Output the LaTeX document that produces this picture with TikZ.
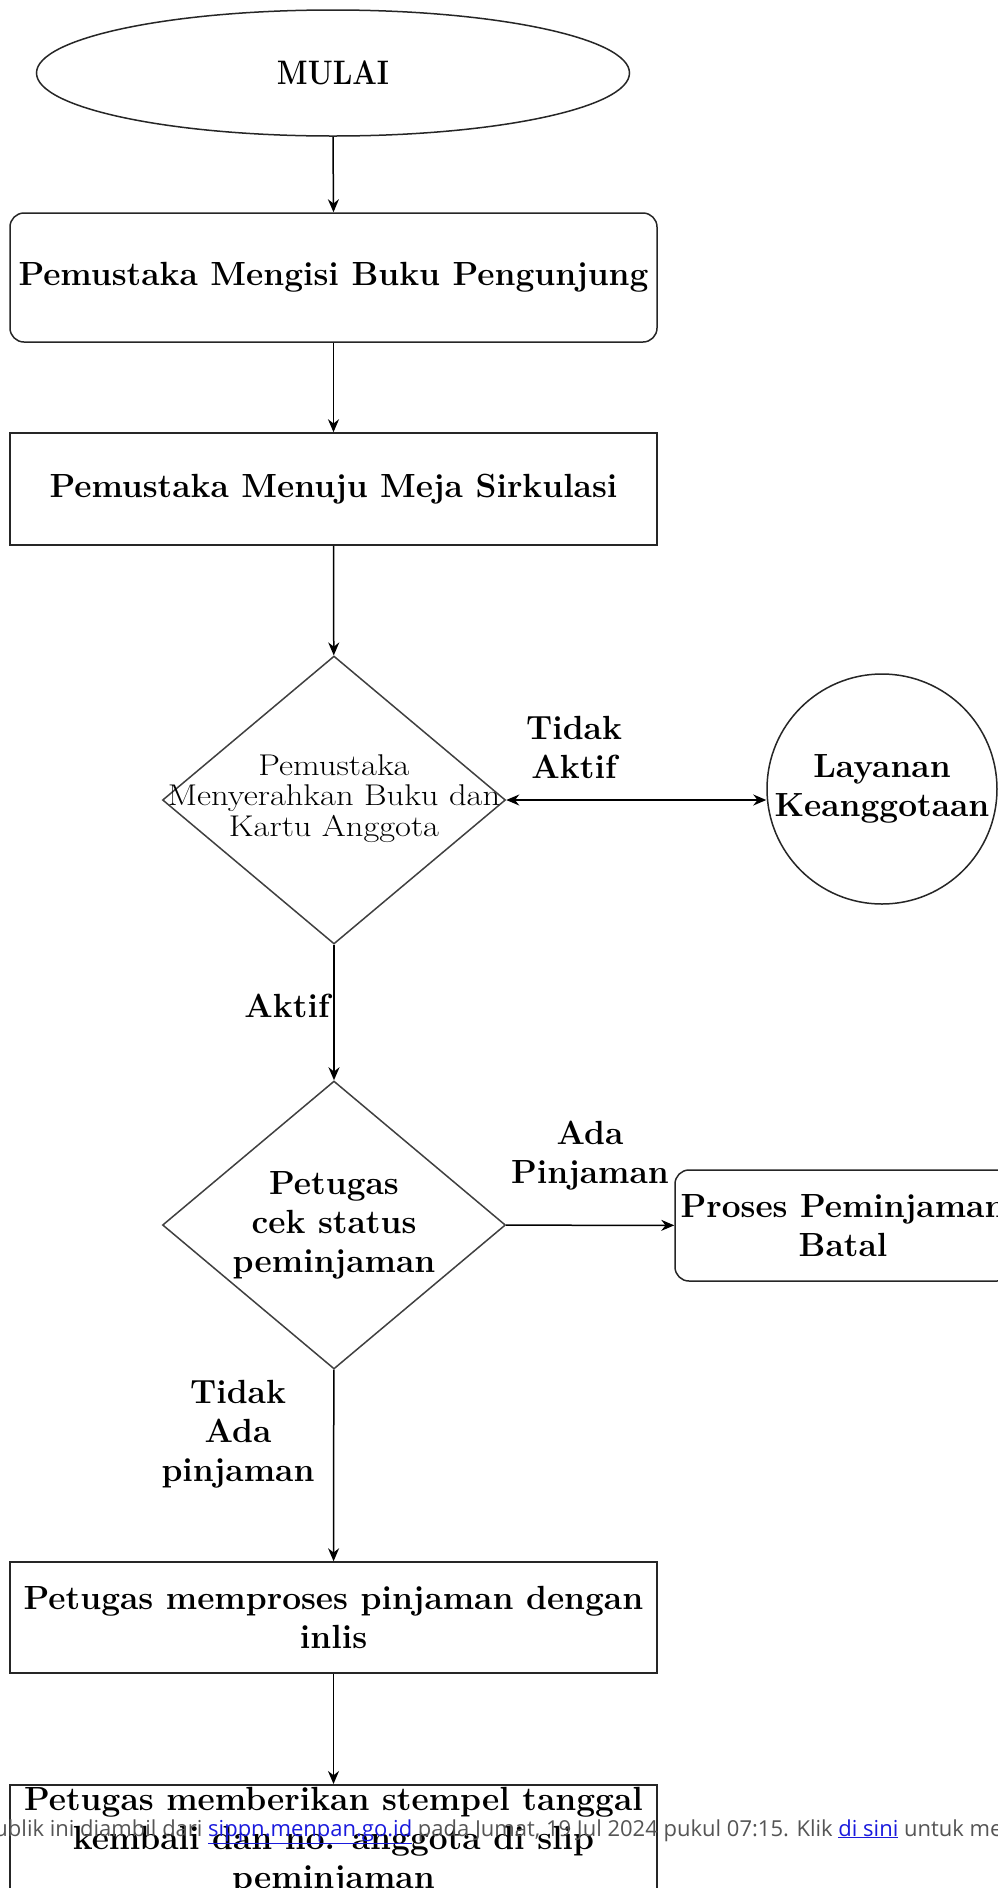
\documentclass[tikz,border=0pt]{standalone}
\usepackage{fontspec}
\usepackage{graphicx}
\newfontfamily\wmfont{Open Sans}
\usetikzlibrary{shapes.geometric,arrows.meta}
\definecolor{wmgray}{HTML}{555555}
\definecolor{linkblue}{HTML}{1A1ADD}
\tikzset{
 box/.style={draw=black!85, line width=1.5pt, minimum width=647pt, inner sep=0pt},
 rbox/.style={box, rounded corners=14pt},
 big/.style={font=\fontsize{33.5}{39}\selectfont\bfseries, align=center},
 dec/.style={draw=black!75, line width=1.5pt, diamond, minimum width=343pt, minimum height=288pt, inner sep=0pt},
 arr/.style={-{Stealth[length=13pt,width=11pt]}, line width=1.5pt},
 darr/.style={{Stealth[length=13pt,width=11pt]}-{Stealth[length=13pt,width=11pt]}, line width=1.5pt},
 lbl/.style={big, inner sep=0pt},
}
\begin{document}
\begin{tikzpicture}[x=1pt,y=-1pt]
\clip (0,0) rectangle (998,1888);
\fill[white] (0,0) rectangle (998,1888);
\node[draw=black!85, line width=1.5pt, ellipse, minimum width=593pt, minimum height=126pt, inner sep=0pt] (start) at (333,73) {\scalebox{0.85}[1]{\fontsize{34}{38}\selectfont\bfseries MULAI}};
\node[rbox, big, minimum height=129pt] (b1) at (333.5,277.5) {Pemustaka Mengisi Buku Pengunjung};
\node[box, big, minimum height=112pt] (b2) at (333.5,489) {Pemustaka Menuju Meja Sirkulasi};
\node[dec] (d1) at (334,800) {};
\node[inner sep=0pt] (d1t) at (d1) {\scalebox{1.15}[1]{\fontsize{30}{30}\selectfont\begin{tabular}{@{}c@{}}Pemustaka\\Menyerahkan Buku dan\\Kartu Anggota\end{tabular}}};
\node[draw=black!85, circle, minimum size=230pt, inner sep=0pt, line width=1.5pt] (lay) at (882,789) {};
\node[big, inner sep=0pt] (layt) at (lay) {Layanan\\Keanggotaan};
\node[dec] (d2) at (334,1225) {};
\node[big, inner sep=0pt] (d2t) at (d2) {Petugas\\cek status\\peminjaman};
\node[rbox, minimum width=336pt, minimum height=111pt, big] (pb) at (843,1225.5) {Proses Peminjaman\\Batal};
\node[box, big, minimum height=111pt] (b3) at (333.5,1617.5) {Petugas memproses pinjaman dengan\\inlis};
\node[box, minimum height=150pt, anchor=north] (b4) at (333.5,1784) {};
\node[big, inner sep=0pt] (b4t) at (333.5,1841) {Petugas memberikan stempel tanggal\\kembali dan no. anggota di slip\\peminjaman};
\draw[arr] (start.south) -- (b1.north);
\draw[arr] (b1) -- (b2);
\draw[arr] (b2) -- (d1);
\draw[darr] (d1.east) -- (d1.east -| lay.west);
\draw[arr] (d1) -- (d2);
\draw[arr] (d2) -- (pb);
\draw[arr] (d2) -- (b3);
\draw[arr] (b3) -- (b4);
\node[lbl] (l1) at (574,747) {Tidak\\Aktif};
\node[lbl] (l2) at (287,1006) {Aktif};
\node[lbl] (l3) at (590,1156) {Ada\\Pinjaman};
\node[lbl] (l4) at (238,1434) {Tidak\\Ada\\pinjaman};
\node[anchor=base west, inner sep=0pt, font=\wmfont\fontsize{22}{26}\selectfont] (wm) at (-19,1836) {\textcolor{wmgray}{Publik ini diambil dari}\ \textcolor{linkblue}{\underline{sippn.menpan.go.id}}\ \textcolor{wmgray}{pada Jumat, 19 Jul 2024 pukul 07:15. Klik}\ \textcolor{linkblue}{\underline{di sini}}\ \textcolor{wmgray}{untuk melihat}};
\end{tikzpicture}
\end{document}
